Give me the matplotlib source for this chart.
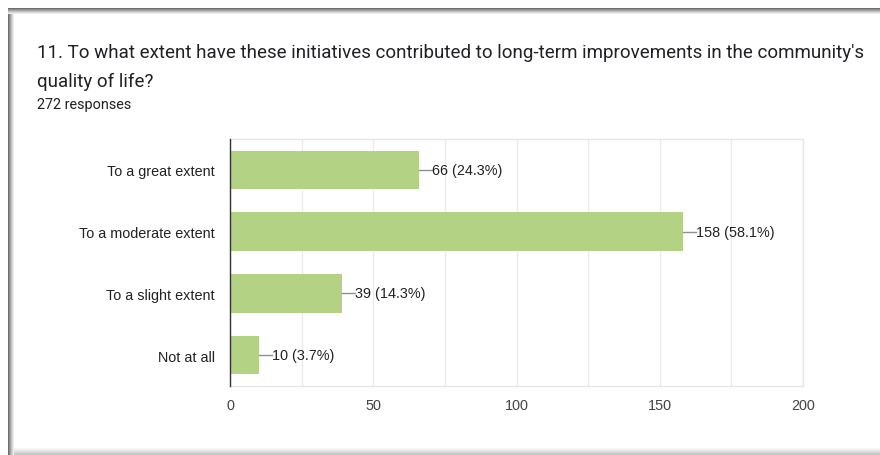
#!/usr/bin/env python

import numpy as np
import matplotlib.pyplot as plt
from matplotlib.patches import Rectangle

# Survey data
categories = ["To a great extent", "To a moderate extent", "To a slight extent", "Not at all"]
counts = [66, 158, 39, 10]
percents = [24.3, 58.1, 14.3, 3.7]
n_responses = 272
title = ("11. To what extent have these initiatives contributed to long-term improvements in the community's\n"
         "quality of life?")

W, H = 880, 456
fig = plt.figure(figsize=(W / 100, H / 100), dpi=100)
fig.patch.set_facecolor('white')

# Card shadow edges (screenshot frame)
shades = ['#6e6e6e', '#8a8a8a', '#a5a5a5', '#c0c0c0', '#d8d8d8', '#ececec']
for i, c in enumerate(shades):
    # top edge
    fig.add_artist(Rectangle((8 / W, 1 - (10 + i) / H), 1, 1 / H, transform=fig.transFigure,
                             color=c, lw=0, zorder=1))
    # left edge
    fig.add_artist(Rectangle(((8 + i) / W, 0), 1 / W, 1 - (9 + i) / H, transform=fig.transFigure,
                             color=c, lw=0, zorder=1))
# bottom edge, soft
bottom = ['#c4c4c4', '#cdcdcd', '#d6d6d6', '#dfdfdf', '#e8e8e8', '#f0f0f0', '#f6f6f6']
for i, c in enumerate(bottom):
    fig.add_artist(Rectangle((14 / W, i / H), 1, 1 / H, transform=fig.transFigure,
                             color=c, lw=0, zorder=1))

# Title and subtitle
fig.text(37 / W, 1 - 44 / H, title, fontsize=13.5, family='Roboto', color='#202124',
         va='top', ha='left', linespacing=1.8)
fig.text(37 / W, 1 - 105 / H, f"{n_responses} responses", fontsize=10.4, family='Roboto',
         color='#202124', va='center', ha='left')

# Plot area in pixels
x0, x1, y_top, y_bot = 230, 803, 140, 387
ax = fig.add_axes([x0 / W, 1 - y_bot / H, (x1 - x0) / W, (y_bot - y_top) / H])

y = np.arange(len(categories))
bar_color = '#b3d283'
ax.barh(y, counts, height=0.62, color=bar_color, zorder=2)
ax.set_ylim(len(categories) - 0.5, -0.5)
ax.set_xlim(0, 200)

ax.set_xticks(np.arange(0, 201, 50))
ax.set_xticks(np.arange(0, 201, 25), minor=True)
ax.grid(axis='x', which='both', color='#ebebeb', lw=1, zorder=0)
ax.set_yticks(y)
ax.set_yticklabels(categories, family='Liberation Sans', fontsize=10.4, color='#222222')
ax.tick_params(axis='y', length=0, pad=11)
ax.tick_params(axis='x', which='both', length=0, pad=9, labelsize=10.4, labelcolor='#444444')
for lbl in ax.get_xticklabels():
    lbl.set_family('Liberation Sans')

for side in ['top', 'right', 'bottom']:
    ax.spines[side].set_color('#e6e6e6')
    ax.spines[side].set_linewidth(1)
ax.spines['left'].set_color('#333333')
ax.spines['left'].set_linewidth(1)
ax.spines['left'].set_zorder(3)

# Value labels with leader lines
px = 200 / (x1 - x0)
for yi, c, p in zip(y, counts, percents):
    ax.plot([c, c + 13 * px], [yi, yi], color='#8f8f8f', lw=1, zorder=3, clip_on=False)
    ax.text(c + 13 * px, yi, f"{c} ({p}%)", va='center', ha='left', fontsize=10.4,
            family='Liberation Sans', color='#222222')

plt.savefig('out.png', dpi=100, facecolor='white')
